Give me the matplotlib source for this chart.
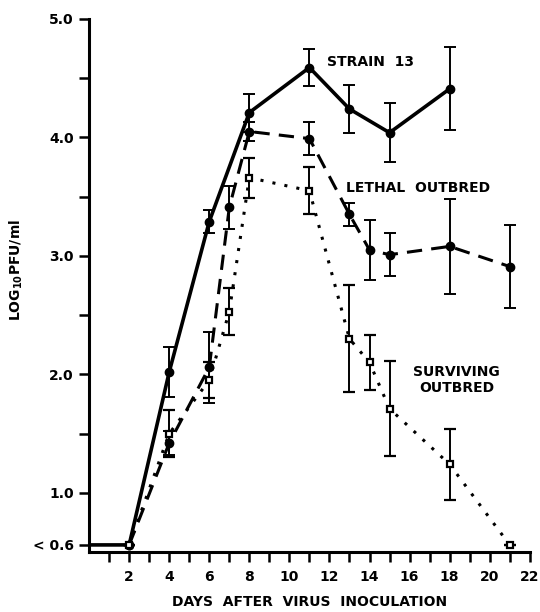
import matplotlib
matplotlib.use("Agg")
import matplotlib.pyplot as plt
import numpy as np

plt.rcParams['font.family'] = ['DejaVu Sans']
plt.rcParams['font.weight'] = 'bold'
plt.rcParams['mathtext.default'] = 'bf'

BASE = 0.56  # plotted position of "< 0.6"

strain_days = [0, 2, 4, 6, 8, 11, 13, 15, 18]
strain_vals = [BASE, BASE, 2.02, 3.29, 4.21, 4.59, 4.24, 4.04, 4.41]
strain_err = [0, 0, 0.21, 0.10, 0.16, 0.16, 0.20, 0.25, 0.35]

lethal_days = [2, 4, 6, 7, 8, 11, 13, 14, 15, 18, 21]
lethal_vals = [BASE, 1.42, 2.06, 3.41, 4.05, 3.99, 3.35, 3.05, 3.01, 3.08, 2.91]
lethal_err = [0, 0.10, 0.30, 0.18, 0.08, 0.14, 0.10, 0.25, 0.18, 0.40, 0.35]

surv_days = [2, 4, 6, 7, 8, 11, 13, 14, 15, 18, 21]
surv_vals = [BASE, 1.50, 1.95, 2.53, 3.66, 3.55, 2.30, 2.10, 1.71, 1.24, BASE]
surv_err = [0, 0.20, 0.15, 0.20, 0.17, 0.20, 0.45, 0.23, 0.40, 0.30, 0]

ytick_vals = [BASE, 1.0, 1.5, 2.0, 2.5, 3.0, 3.5, 4.0, 4.5, 5.0]
ytick_labels = ['< 0.6', '1.0', '', '2.0', '', '3.0', '', '4.0', '', '5.0']
xtick_major = [2, 4, 6, 8, 10, 12, 14, 16, 18, 20, 22]

fig = plt.figure(figsize=(5.4, 6.12), dpi=100)
ax = fig.add_axes([0.165, 0.098, 0.816, 0.871])

ax.errorbar(strain_days, strain_vals, yerr=strain_err, color='black', lw=2.6,
            ls='-', marker='o', ms=6, markevery=list(range(1, len(strain_days))),
            elinewidth=1.4, capsize=4, capthick=1.4, zorder=4)
ax.errorbar(lethal_days, lethal_vals, yerr=lethal_err, color='black', lw=2.2,
            ls=(0, (5, 3)), marker='o', ms=6, elinewidth=1.4, capsize=4,
            capthick=1.4, zorder=3)
ax.errorbar(surv_days, surv_vals, yerr=surv_err, color='black', lw=2.2,
            ls=(0, (1, 3)), marker='s', ms=5, mfc='white', mec='black', mew=1.6,
            elinewidth=1.4, capsize=4, capthick=1.4, zorder=5)

ax.text(11.9, 4.64, 'STRAIN  13', fontsize=10, fontweight='bold', va='center', ha='left')
ax.text(12.85, 3.57, 'LETHAL  OUTBRED', fontsize=10, fontweight='bold', va='center', ha='left')
ax.text(18.35, 1.95, 'SURVIVING\nOUTBRED', fontsize=10, fontweight='bold', va='center',
        ha='center', linespacing=1.15)

ax.set_xlim(0, 22)
ax.set_ylim(0.50, 5.0)
ax.set_yticks(ytick_vals)
ax.set_yticklabels(ytick_labels)
ax.set_xticks(xtick_major)
ax.set_xticks(np.arange(1, 23, 1), minor=True)
ax.tick_params(axis='x', which='both', direction='out', length=7, width=1.8, labelsize=10, pad=6)
ax.tick_params(axis='y', which='both', direction='out', length=7, width=1.8, labelsize=10, pad=4)
for lab in ax.get_xticklabels() + ax.get_yticklabels():
    lab.set_fontweight('bold')

for s in ['top', 'right']:
    ax.spines[s].set_visible(False)
for s in ['left', 'bottom']:
    ax.spines[s].set_linewidth(2.2)

ax.set_xlabel('DAYS  AFTER  VIRUS  INOCULATION', fontsize=10, fontweight='bold', labelpad=8)
ax.set_ylabel(r'LOG$_{\mathbf{10}}$PFU/ml', fontsize=10, fontweight='bold')
ax.yaxis.set_label_coords(-0.145, 0.53)

fig.savefig('out.png', dpi=100)
